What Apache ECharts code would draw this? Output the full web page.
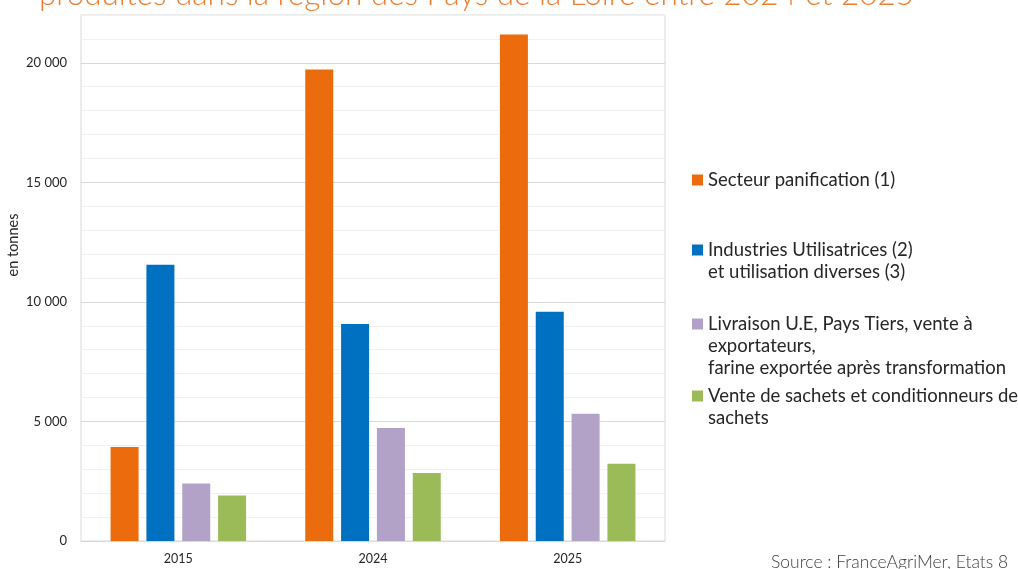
<!DOCTYPE html>
<html><head><meta charset="utf-8">
<script src="https://cdn.jsdelivr.net/npm/echarts@6/dist/echarts.min.js"></script>
<style>html,body{margin:0;padding:0;background:#fff}#c{width:1018px;height:569px}</style>
</head><body><div id="c"></div>
<script>
const categories = ['2015', '2024', '2025'];
const seriesNames = [
  'Secteur panification (1)',
  'Industries Utilisatrices (2)\net utilisation diverses (3)',
  'Livraison U.E, Pays Tiers, vente à\nexportateurs,\nfarine exportée après transformation',
  'Vente de sachets et conditionneurs de\nsachets'
];
const panification = [3930, 19720, 21180];
const industries = [11550, 9080, 9590];
const livraison = [2410, 4730, 5320];
const sachets = [1900, 2840, 3230];
const yTickLabels = ['0', '5 000', '10 000', '15 000', '20 000'];
const titleText = 'produites dans la région des Pays de la Loire entre 2024 et 2025';
const sourceText = 'Source : FranceAgriMer, Etats 8';
const yName = 'en tonnes';

const colors = ['#EC6C0D', '#0070C0', '#B3A2C7', '#9BBB59'];
const values = [panification, industries, livraison, sachets];
const lh = 22;
const legendFirstLine = [180, 250, 324, 396];
const legendLines = [1, 2, 3, 2];

const chart = echarts.init(document.getElementById('c'));
chart.setOption({
  animation: false,
  textStyle: { fontFamily: 'Lato' },
  grid: { left: 81, right: 353, top: 15, bottom: 28, show: true, borderColor: '#D9D9D9', borderWidth: 1 },
  xAxis: {
    type: 'category', data: categories,
    axisLine: { lineStyle: { color: '#D9D9D9', width: 1 } },
    axisTick: { show: false },
    axisLabel: { color: '#262626', fontSize: 12.5, margin: 11 }
  },
  yAxis: {
    type: 'value', min: 0, max: 22000, interval: 1000,
    axisLine: { show: false },
    axisTick: { show: false },
    splitLine: { lineStyle: { color: ['#D9D9D9', '#F0F0F0', '#F0F0F0', '#F0F0F0', '#F0F0F0'], width: 1 } },
    axisLabel: {
      color: '#262626', fontSize: 13, margin: 14,
      formatter: v => (v % 5000 === 0 ? yTickLabels[v / 5000] : '')
    }
  },
  legend: seriesNames.map((n, i) => ({
    data: [n], orient: 'vertical', left: 692, padding: 0,
    top: legendFirstLine[i] - (legendLines[i] - 1) * lh - lh / 2,
    itemWidth: 11, itemHeight: 11, itemGap: 0, icon: 'rect',
    selectedMode: false,
    formatter: name => '\n'.repeat(legendLines[i] - 1) + name,
    textStyle: { fontSize: 18.5, color: '#262626', lineHeight: lh, fontFamily: 'Lato' }
  })),
  series: seriesNames.map((n, i) => ({
    name: n, type: 'bar', data: values[i], barWidth: 28, barGap: '28%',
    itemStyle: { color: colors[i] }
  })),
  graphic: [
    { type: 'text', x: 39, y: -5.5, style: { text: titleText, fontSize: 31.5, fontWeight: 300, fill: '#ED7D31', verticalAlign: 'middle', fontFamily: 'Lato' } },
    { type: 'text', x: 771, y: 562.5, style: { text: sourceText, fontSize: 17.5, fontWeight: 300, fill: '#404040', verticalAlign: 'middle', fontFamily: 'Lato' } },
    { type: 'text', x: 13, y: 245, rotation: Math.PI / 2, style: { text: yName, fontSize: 14.5, fill: '#262626', align: 'center', verticalAlign: 'middle', fontFamily: 'Lato' } }
  ]
});
</script></body></html>
